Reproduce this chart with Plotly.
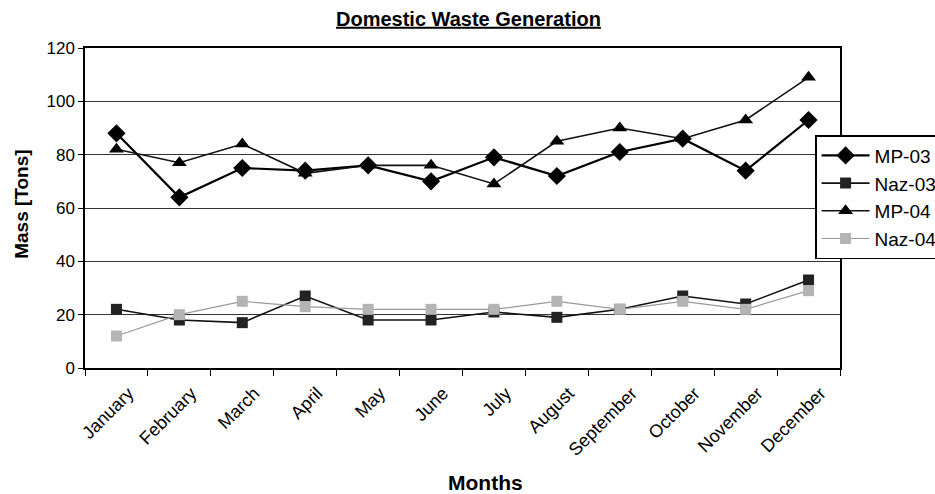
import plotly.graph_objects as go

months = ["January", "February", "March", "April", "May", "June", "July",
          "August", "September", "October", "November", "December"]

mp_03 = [88, 64, 75, 74, 76, 70, 79, 72, 81, 86, 74, 93]
naz_03 = [22, 18, 17, 27, 18, 18, 21, 19, 22, 27, 24, 33]
mp_04 = [82, 77, 84, 73, 76, 76, 69, 85, 90, 86, 93, 109]
naz_04 = [12, 20, 25, 23, 22, 22, 22, 25, 22, 25, 22, 29]

FONT = "Liberation Sans, Arial, sans-serif"

fig = go.Figure()
fig.add_trace(go.Scatter(
    x=months, y=mp_03, name="MP-03", mode="lines+markers",
    line=dict(color="#000000", width=2.2),
    marker=dict(symbol="diamond", size=14, color="#000000")))
fig.add_trace(go.Scatter(
    x=months, y=naz_03, name="Naz-03", mode="lines+markers",
    line=dict(color="#111111", width=1.6),
    marker=dict(symbol="square", size=11, color="#222222")))
fig.add_trace(go.Scatter(
    x=months, y=mp_04, name="MP-04", mode="lines+markers",
    line=dict(color="#111111", width=1.6),
    marker=dict(symbol="triangle-up", size=13, color="#000000")))
fig.add_trace(go.Scatter(
    x=months, y=naz_04, name="Naz-04", mode="lines+markers",
    line=dict(color="#9a9a9a", width=1.2),
    marker=dict(symbol="square", size=11, color="#b4b4b4")))

fig.update_layout(
    width=935, height=494,
    margin=dict(l=85, r=95, t=48, b=126, autoexpand=False),
    paper_bgcolor="white", plot_bgcolor="white",
    font=dict(family=FONT, size=17, color="black"),
    title=dict(text="<b><u>Domestic Waste Generation</u></b>",
               x=0.501, xanchor="center", y=0.962, yanchor="middle",
               font=dict(family=FONT, size=20)),
    showlegend=True,
    legend=dict(x=0.967, y=0.728, xanchor="left", yanchor="top",
                bgcolor="white", bordercolor="black", borderwidth=1.5,
                font=dict(size=19), itemwidth=48, tracegroupgap=0),
    xaxis=dict(
        tickangle=-45, tickfont=dict(size=18), ticklabelshift=12,
        ticklabelstandoff=6,
        showline=True, linecolor="black", linewidth=1.5,
        mirror=True, ticks="outside", ticklen=6, tickcolor="black",
        tickson="boundaries", showgrid=False, range=[-0.5, 11.5]),
    yaxis=dict(
        range=[0, 120], dtick=20, showline=True, linecolor="black",
        linewidth=1.5, mirror=True, ticks="outside", ticklen=5,
        tickcolor="black", showgrid=True, gridcolor="#333333", gridwidth=1,
        zeroline=False, tickfont=dict(size=17)),
    annotations=[
        dict(text="<b>Months</b>", xref="paper", yref="paper",
             x=0.530, y=-0.359, xanchor="center", yanchor="middle",
             showarrow=False, font=dict(size=21)),
        dict(text="<b>Mass [Tons]</b>", xref="paper", yref="paper",
             x=-0.085, y=0.5125, xanchor="center", yanchor="middle",
             textangle=-90, showarrow=False, font=dict(size=19)),
    ],
)

fig.write_html("out.html")
